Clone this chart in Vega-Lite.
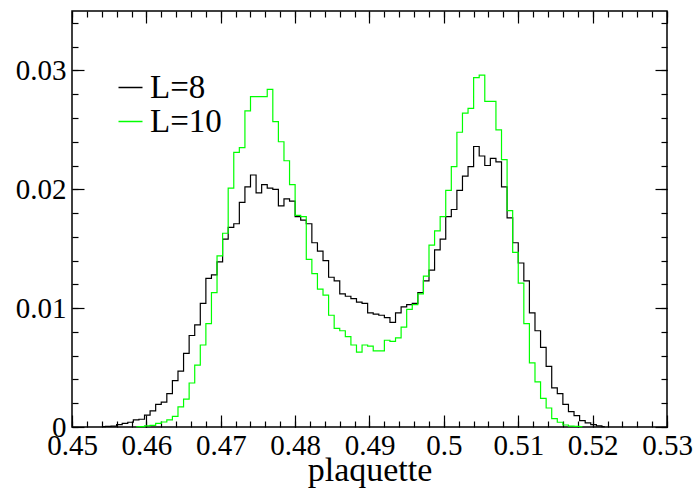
{
 "$schema": "https://vega.github.io/schema/vega-lite/v6.json",
 "width": 595, "height": 416,
 "autosize": "none",
 "padding": {"left": 72, "top": 11, "right": 30, "bottom": 66},
 "background": "white",
 "config": {
  "view": {"stroke": "black", "strokeWidth": 1.5},
  "axis": {"domain": false, "grid": false, "tickColor": "black", "tickWidth": 1.2, "labelFont": "Liberation Serif", "labelColor": "black", "titleFont": "Liberation Serif", "titleColor": "black", "titleFontWeight": "normal"}
 },
 "datasets": {
  "l8": [
   {"x": 0.454125, "y": 0.00003}, {"x": 0.454875, "y": 0.00005}, {"x": 0.455625, "y": 0.00008}, {"x": 0.456375, "y": 0.0002},
   {"x": 0.457125, "y": 0.0003}, {"x": 0.457875, "y": 0.0004}, {"x": 0.458625, "y": 0.0006}, {"x": 0.459375, "y": 0.00065},
   {"x": 0.460125, "y": 0.001}, {"x": 0.460875, "y": 0.00135}, {"x": 0.461625, "y": 0.0019}, {"x": 0.462375, "y": 0.0021},
   {"x": 0.463125, "y": 0.0028}, {"x": 0.463875, "y": 0.0039}, {"x": 0.464625, "y": 0.0047}, {"x": 0.465375, "y": 0.0062},
   {"x": 0.466125, "y": 0.0077}, {"x": 0.466875, "y": 0.0086}, {"x": 0.467625, "y": 0.0104}, {"x": 0.468375, "y": 0.0125},
   {"x": 0.469125, "y": 0.0128}, {"x": 0.469875, "y": 0.0139}, {"x": 0.470625, "y": 0.0158}, {"x": 0.471375, "y": 0.0168},
   {"x": 0.472125, "y": 0.0171}, {"x": 0.472875, "y": 0.0189}, {"x": 0.473625, "y": 0.0202}, {"x": 0.474375, "y": 0.0212},
   {"x": 0.475125, "y": 0.0197}, {"x": 0.475875, "y": 0.0204}, {"x": 0.476625, "y": 0.0201}, {"x": 0.477375, "y": 0.0200},
   {"x": 0.478125, "y": 0.0186}, {"x": 0.478875, "y": 0.0192}, {"x": 0.479625, "y": 0.0190}, {"x": 0.480375, "y": 0.0177},
   {"x": 0.481125, "y": 0.0174}, {"x": 0.481875, "y": 0.0171}, {"x": 0.482625, "y": 0.0155}, {"x": 0.483375, "y": 0.0148},
   {"x": 0.484125, "y": 0.0140}, {"x": 0.484875, "y": 0.0126}, {"x": 0.485625, "y": 0.0123}, {"x": 0.486375, "y": 0.0112},
   {"x": 0.487125, "y": 0.0110}, {"x": 0.487875, "y": 0.0108}, {"x": 0.488625, "y": 0.0105}, {"x": 0.489375, "y": 0.0104},
   {"x": 0.490125, "y": 0.0096}, {"x": 0.490875, "y": 0.0095}, {"x": 0.491625, "y": 0.0094}, {"x": 0.492375, "y": 0.0092},
   {"x": 0.493125, "y": 0.0088}, {"x": 0.493875, "y": 0.0096}, {"x": 0.494625, "y": 0.0101}, {"x": 0.495375, "y": 0.0103},
   {"x": 0.496125, "y": 0.0104}, {"x": 0.496875, "y": 0.0113}, {"x": 0.497625, "y": 0.0123}, {"x": 0.498375, "y": 0.0132},
   {"x": 0.499125, "y": 0.0149}, {"x": 0.499875, "y": 0.0158}, {"x": 0.500625, "y": 0.0177}, {"x": 0.501375, "y": 0.0183},
   {"x": 0.502125, "y": 0.0199}, {"x": 0.502875, "y": 0.0211}, {"x": 0.503625, "y": 0.0219}, {"x": 0.504375, "y": 0.0236},
   {"x": 0.505125, "y": 0.0228}, {"x": 0.505875, "y": 0.0220}, {"x": 0.506625, "y": 0.0226}, {"x": 0.507375, "y": 0.0223},
   {"x": 0.508125, "y": 0.0202}, {"x": 0.508875, "y": 0.0176}, {"x": 0.509625, "y": 0.0155}, {"x": 0.510375, "y": 0.0138},
   {"x": 0.511125, "y": 0.0123}, {"x": 0.511875, "y": 0.0096}, {"x": 0.512625, "y": 0.0081}, {"x": 0.513375, "y": 0.0067},
   {"x": 0.514125, "y": 0.0051}, {"x": 0.514875, "y": 0.0033}, {"x": 0.515625, "y": 0.0028}, {"x": 0.516375, "y": 0.0019},
   {"x": 0.517125, "y": 0.0013}, {"x": 0.517875, "y": 0.00095}, {"x": 0.518625, "y": 0.00053}, {"x": 0.519375, "y": 0.00034},
   {"x": 0.520125, "y": 0.0002}, {"x": 0.520875, "y": 0.0001}, {"x": 0.521625, "y": 0.00003}
  ],
  "l10": [
   {"x": 0.458625, "y": 0.00002}, {"x": 0.459375, "y": 0.00004}, {"x": 0.460125, "y": 0.0001}, {"x": 0.460875, "y": 0.00014},
   {"x": 0.461625, "y": 0.0003}, {"x": 0.462375, "y": 0.00042}, {"x": 0.463125, "y": 0.0006}, {"x": 0.463875, "y": 0.0009},
   {"x": 0.464625, "y": 0.0017}, {"x": 0.465375, "y": 0.00235}, {"x": 0.466125, "y": 0.0037}, {"x": 0.466875, "y": 0.0052},
   {"x": 0.467625, "y": 0.0069}, {"x": 0.468375, "y": 0.0087}, {"x": 0.469125, "y": 0.0113}, {"x": 0.469875, "y": 0.0144},
   {"x": 0.470625, "y": 0.0163}, {"x": 0.471375, "y": 0.0201}, {"x": 0.472125, "y": 0.0231}, {"x": 0.472875, "y": 0.0235},
   {"x": 0.473625, "y": 0.0266}, {"x": 0.474375, "y": 0.0278}, {"x": 0.475125, "y": 0.0278}, {"x": 0.475875, "y": 0.0278},
   {"x": 0.476625, "y": 0.0284}, {"x": 0.477375, "y": 0.0257}, {"x": 0.478125, "y": 0.0240}, {"x": 0.478875, "y": 0.0224},
   {"x": 0.479625, "y": 0.0204}, {"x": 0.480375, "y": 0.0178}, {"x": 0.481125, "y": 0.0177}, {"x": 0.481875, "y": 0.0141},
   {"x": 0.482625, "y": 0.0129}, {"x": 0.483375, "y": 0.0116}, {"x": 0.484125, "y": 0.0111}, {"x": 0.484875, "y": 0.0094},
   {"x": 0.485625, "y": 0.0083}, {"x": 0.486375, "y": 0.0081}, {"x": 0.487125, "y": 0.0076}, {"x": 0.487875, "y": 0.0069},
   {"x": 0.488625, "y": 0.0063}, {"x": 0.489375, "y": 0.0069}, {"x": 0.490125, "y": 0.0068}, {"x": 0.490875, "y": 0.0064},
   {"x": 0.491625, "y": 0.0064}, {"x": 0.492375, "y": 0.0073}, {"x": 0.493125, "y": 0.0072}, {"x": 0.493875, "y": 0.0075},
   {"x": 0.494625, "y": 0.0084}, {"x": 0.495375, "y": 0.0099}, {"x": 0.496125, "y": 0.0103}, {"x": 0.496875, "y": 0.0112},
   {"x": 0.497625, "y": 0.0127}, {"x": 0.498375, "y": 0.0153}, {"x": 0.499125, "y": 0.0165}, {"x": 0.499875, "y": 0.0177},
   {"x": 0.500625, "y": 0.0199}, {"x": 0.501375, "y": 0.0219}, {"x": 0.502125, "y": 0.0248}, {"x": 0.502875, "y": 0.0264},
   {"x": 0.503625, "y": 0.0268}, {"x": 0.504375, "y": 0.0294}, {"x": 0.505125, "y": 0.0296}, {"x": 0.505875, "y": 0.0274},
   {"x": 0.506625, "y": 0.0274}, {"x": 0.507375, "y": 0.0250}, {"x": 0.508125, "y": 0.0225}, {"x": 0.508875, "y": 0.0182},
   {"x": 0.509625, "y": 0.0147}, {"x": 0.510375, "y": 0.0121}, {"x": 0.511125, "y": 0.0087}, {"x": 0.511875, "y": 0.0054},
   {"x": 0.512625, "y": 0.0038}, {"x": 0.513375, "y": 0.0024}, {"x": 0.514125, "y": 0.0016}, {"x": 0.514875, "y": 0.0007},
   {"x": 0.515625, "y": 0.0004}, {"x": 0.516375, "y": 0.00017}, {"x": 0.517125, "y": 0.00008}, {"x": 0.517875, "y": 0.00005},
   {"x": 0.518625, "y": 0.00003}
  ]
 },
 "layer": [
  {
   "data": {"name": "l8"},
   "mark": {"type": "line", "interpolate": "step", "strokeWidth": 1.2},
   "encoding": {
    "x": {"field": "x", "type": "quantitative", "scale": {"domain": [0.45, 0.53], "nice": false, "zero": false},
     "axis": {"orient": "bottom", "values": [0.45, 0.46, 0.47, 0.48, 0.49, 0.5, 0.51, 0.52, 0.53], "format": "~g", "tickSize": -12, "labelPadding": 16, "labelFontSize": 29, "labelFlush": false, "labelOverlap": false, "labelBound": false, "title": "plaquette", "titleFontSize": 34, "titleY": 53, "titleBaseline": "alphabetic"}},
    "y": {"field": "y", "type": "quantitative", "scale": {"domain": [0, 0.035], "nice": false, "zero": true},
     "axis": {"orient": "left", "values": [0, 0.01, 0.02, 0.03], "format": "~g", "tickSize": -12, "labelPadding": 18, "labelFontSize": 29, "labelFlush": false, "labelOverlap": false, "labelBound": false, "title": null}},
    "color": {"datum": "L=8", "type": "nominal", "scale": {"domain": ["L=8", "L=10"], "range": ["black", "#00ff00"]},
     "legend": {"orient": "none", "legendX": 42, "legendY": 60, "title": null, "symbolType": "stroke", "symbolSize": 576, "symbolStrokeWidth": 1.5, "labelFont": "Liberation Serif", "labelFontSize": 33, "labelColor": "black", "labelOffset": 3, "rowPadding": -6, "padding": 0}}
   }
  },
  {
   "data": {"name": "l10"},
   "mark": {"type": "line", "interpolate": "step", "strokeWidth": 1.2},
   "encoding": {
    "x": {"field": "x", "type": "quantitative",
     "axis": {"orient": "bottom", "values": [0.45, 0.452, 0.454, 0.456, 0.458, 0.46, 0.462, 0.464, 0.466, 0.468, 0.47, 0.472, 0.474, 0.476, 0.478, 0.48, 0.482, 0.484, 0.486, 0.488, 0.49, 0.492, 0.494, 0.496, 0.498, 0.5, 0.502, 0.504, 0.506, 0.508, 0.51, 0.512, 0.514, 0.516, 0.518, 0.52, 0.522, 0.524, 0.526, 0.528, 0.53], "tickSize": -6, "labels": false, "title": null}},
    "y": {"field": "y", "type": "quantitative",
     "axis": {"orient": "left", "values": [0, 0.002, 0.004, 0.006, 0.008, 0.01, 0.012, 0.014, 0.016, 0.018, 0.02, 0.022, 0.024, 0.026, 0.028, 0.03, 0.032, 0.034], "tickSize": -6, "labels": false, "title": null}},
    "color": {"datum": "L=10", "type": "nominal"}
   }
  },
  {
   "data": {"name": "l8"},
   "mark": {"type": "line", "opacity": 0},
   "encoding": {
    "x": {"field": "x", "type": "quantitative",
     "axis": {"orient": "top", "values": [0.45, 0.46, 0.47, 0.48, 0.49, 0.5, 0.51, 0.52, 0.53], "tickSize": -12, "labels": false, "title": null}},
    "y": {"field": "y", "type": "quantitative",
     "axis": {"orient": "right", "values": [0, 0.01, 0.02, 0.03], "tickSize": -12, "labels": false, "title": null}}
   }
  },
  {
   "data": {"name": "l8"},
   "mark": {"type": "line", "opacity": 0},
   "encoding": {
    "x": {"field": "x", "type": "quantitative",
     "axis": {"orient": "top", "values": [0.45, 0.452, 0.454, 0.456, 0.458, 0.46, 0.462, 0.464, 0.466, 0.468, 0.47, 0.472, 0.474, 0.476, 0.478, 0.48, 0.482, 0.484, 0.486, 0.488, 0.49, 0.492, 0.494, 0.496, 0.498, 0.5, 0.502, 0.504, 0.506, 0.508, 0.51, 0.512, 0.514, 0.516, 0.518, 0.52, 0.522, 0.524, 0.526, 0.528, 0.53], "tickSize": -6, "labels": false, "title": null}},
    "y": {"field": "y", "type": "quantitative",
     "axis": {"orient": "right", "values": [0, 0.002, 0.004, 0.006, 0.008, 0.01, 0.012, 0.014, 0.016, 0.018, 0.02, 0.022, 0.024, 0.026, 0.028, 0.03, 0.032, 0.034], "tickSize": -6, "labels": false, "title": null}}
   }
  }
 ],
 "resolve": {"axis": {"x": "independent", "y": "independent"}}
}
